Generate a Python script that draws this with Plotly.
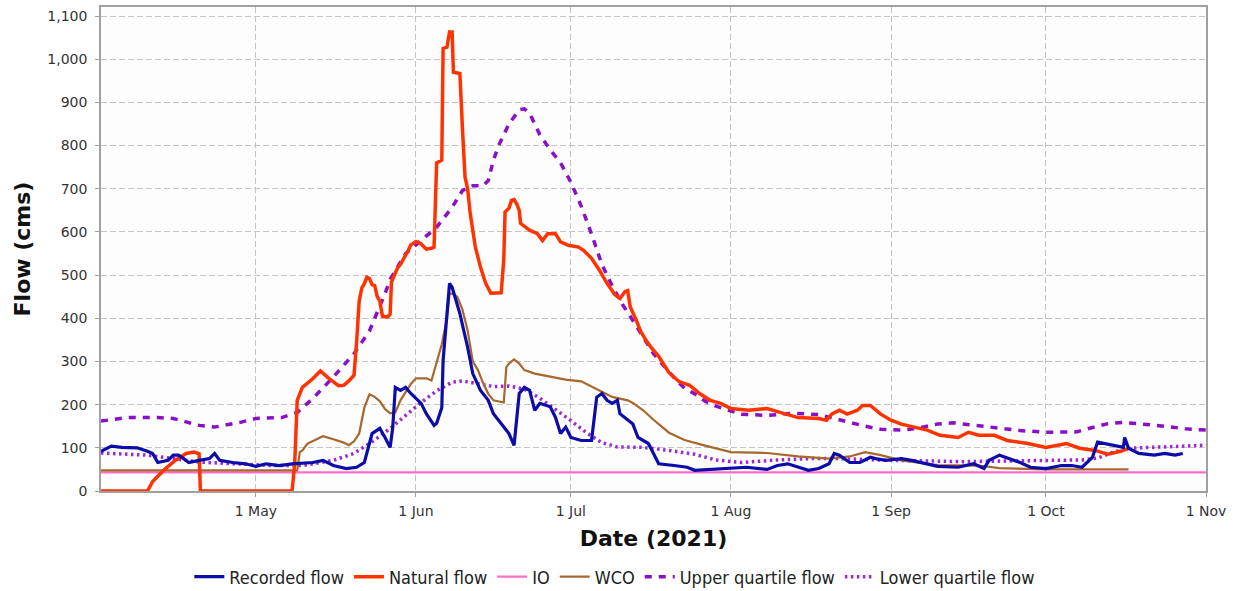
import plotly.graph_objects as go

YEAR = "2021-"

# ---------------- data ----------------
recorded_dates = ["04-01", "04-03", "04-05", "04-08", "04-10", "04-11", "04-12", "04-14", "04-15", "04-16",
                  "04-17", "04-18", "04-20", "04-22", "04-23", "04-24", "04-26 12:00", "04-29", "05-01", "05-03",
                  "05-05 12:00", "05-08", "05-12", "05-14", "05-16", "05-18 12:00", "05-20 12:00", "05-22", "05-23 12:00", "05-25",
                  "05-26", "05-27", "05-27 12:00", "05-28", "05-29", "05-30", "05-31", "06-02", "06-03", "06-04 12:00",
                  "06-05", "06-06", "06-06 06:00", "06-07", "06-07 12:00", "06-08", "06-09 12:00", "06-11", "06-12", "06-13 12:00",
                  "06-15", "06-16", "06-19", "06-20", "06-21", "06-22", "06-23", "06-24", "06-25", "06-27",
                  "06-28", "06-29", "06-30", "07-01", "07-03", "07-05", "07-06", "07-07", "07-08", "07-09",
                  "07-10", "07-10 12:00", "07-12", "07-13", "07-14", "07-16", "07-17", "07-18", "07-21", "07-23 12:00",
                  "07-25", "07-28 12:00", "08-01", "08-04", "08-08", "08-10", "08-12", "08-14", "08-16", "08-18",
                  "08-20", "08-21", "08-22", "08-24", "08-26", "08-28", "08-29", "08-31", "09-03", "09-05",
                  "09-08", "09-10", "09-14", "09-17", "09-19", "09-20", "09-22", "09-24", "09-26", "09-28",
                  "10-01", "10-04", "10-06", "10-08", "10-10", "10-11", "10-14", "10-16", "10-16 06:00", "10-17",
                  "10-19", "10-22", "10-24", "10-26", "10-27 12:00"]
recorded_flow = [92, 104, 101, 100, 92, 87, 66, 71, 83, 83,
                 75, 66, 71, 75, 87, 71, 66, 63, 57, 63,
                 59, 63, 66, 71, 59, 52, 55, 66, 133, 145,
                 124, 101, 147, 240, 233, 240, 226, 203, 179, 152,
                 157, 193, 302, 411, 481, 472, 411, 333, 272, 233,
                 210, 179, 133, 106, 226, 240, 233, 187, 203, 195,
                 171, 133, 148, 124, 117, 117, 217, 226, 210, 203,
                 210, 179, 164, 155, 124, 110, 87, 63, 59, 55,
                 48, 50, 52, 55, 50, 59, 63, 55, 48, 52,
                 63, 87, 83, 66, 66, 78, 75, 71, 75, 71,
                 63, 57, 55, 63, 52, 71, 83, 75, 66, 55,
                 52, 59, 59, 55, 78, 113, 106, 101, 124, 99,
                 87, 83, 87, 83, 87]

natural_dates = ["04-01", "04-10", "04-11", "04-13 12:00", "04-15 12:00", "04-17 12:00", "04-19", "04-20", "04-20 06:00", "05-08",
                 "05-08 12:00", "05-09", "05-10", "05-12", "05-13 12:00", "05-15", "05-17", "05-18", "05-19", "05-20",
                 "05-20 12:00", "05-21", "05-21 12:00", "05-22", "05-22 12:00", "05-23", "05-23 12:00", "05-24", "05-24 12:00", "05-25",
                 "05-25 12:00", "05-26 12:00", "05-27", "05-27 06:00", "05-28", "05-28 12:00", "05-29", "05-30", "05-30 12:00", "05-31",
                 "06-01", "06-02", "06-03", "06-04", "06-04 12:00", "06-05", "06-06", "06-06 06:00", "06-07", "06-07 12:00",
                 "06-08", "06-08 06:00", "06-09 12:00", "06-10", "06-10 12:00", "06-11", "06-11 12:00", "06-12 12:00", "06-13 12:00", "06-14 12:00",
                 "06-15 12:00", "06-17 12:00", "06-18", "06-18 06:00", "06-19", "06-19 12:00", "06-20", "06-20 12:00", "06-21", "06-21 06:00",
                 "06-22", "06-23", "06-24 12:00", "06-25 12:00", "06-26 12:00", "06-28", "06-29", "06-30 12:00", "07-02 12:00", "07-03 12:00",
                 "07-05", "07-06 12:00", "07-08", "07-09 12:00", "07-10 12:00", "07-11 12:00", "07-12", "07-12 12:00", "07-13 12:00", "07-14 12:00",
                 "07-15 12:00", "07-16 12:00", "07-18", "07-20", "07-22", "07-24", "07-26", "07-28", "07-30", "08-01",
                 "08-04 12:00", "08-08", "08-10 12:00", "08-14", "08-18", "08-19 12:00", "08-20 12:00", "08-22", "08-23 12:00", "08-25 12:00",
                 "08-26 12:00", "08-28", "08-30", "09-01", "09-03", "09-05 12:00", "09-08", "09-10 12:00", "09-14", "09-16",
                 "09-18", "09-21", "09-23 12:00", "09-27 12:00", "10-01", "10-05", "10-07 12:00", "10-10 12:00", "10-13", "10-15 12:00",
                 "10-17"]
natural_flow = [0, 0, 22, 52, 72, 87, 90, 86, 0, 0,
                60, 210, 240, 260, 278, 262, 244, 245, 255, 268,
                345, 440, 470, 480, 495, 492, 478, 476, 450, 440,
                405, 403, 410, 484, 505, 518, 525, 545, 557, 570,
                578, 572, 560, 562, 565, 760, 766, 1025, 1028, 1063,
                1063, 970, 967, 840, 727, 700, 643, 565, 518, 481,
                458, 459, 535, 646, 655, 673, 675, 665, 650, 620,
                612, 604, 596, 580, 596, 596, 577, 569, 565, 557,
                539, 512, 481, 455, 446, 462, 464, 426, 400, 370,
                350, 333, 312, 274, 253, 245, 225, 210, 203, 191,
                187, 191, 182, 170, 168, 164, 178, 187, 178, 187,
                198, 198, 178, 164, 155, 148, 141, 129, 124, 136,
                129, 129, 117, 110, 101, 110, 99, 94, 85, 92,
                99]

io_dates = ["04-01", "11-01"]
io_flow = [43, 43]

wco_dates = ["04-01", "05-08", "05-09", "05-09 12:00", "05-10", "05-11", "05-13", "05-14", "05-16", "05-18",
             "05-19", "05-20", "05-21", "05-22", "05-23", "05-24", "05-25", "05-26", "05-27", "05-28",
             "05-29", "05-31", "06-01", "06-03", "06-04", "06-05", "06-06", "06-07", "06-07 12:00", "06-08",
             "06-09", "06-10", "06-11", "06-12", "06-13", "06-14", "06-15", "06-16", "06-18", "06-18 12:00",
             "06-19", "06-20", "06-21", "06-22", "06-24", "06-27", "06-30", "07-03", "07-06", "07-09",
             "07-12", "07-13", "07-15", "07-17", "07-20", "07-23", "07-27", "08-01", "08-08", "08-14",
             "08-20", "08-24", "08-27", "08-30", "09-03", "09-10", "09-18", "09-22", "10-01", "10-17"]
wco_flow = [48, 47, 48, 90, 94, 110, 122, 127, 120, 112,
            106, 115, 133, 193, 224, 218, 208, 190, 180, 182,
            210, 248, 261, 261, 256, 300, 340, 400, 457, 457,
            450, 420, 372, 300, 280, 250, 225, 210, 205, 287,
            295, 305, 295, 280, 272, 265, 258, 254, 236, 218,
            210, 204, 187, 165, 135, 118, 105, 90, 88, 80,
            75, 80, 90, 83, 71, 60, 59, 53, 50, 50]

upper_dates = ["04-01", "04-06", "04-12", "04-15", "04-20", "04-23", "04-28", "05-01", "05-06", "05-09",
               "05-12", "05-16", "05-20", "05-23", "05-26", "05-27", "05-30", "06-02", "06-05", "06-08",
               "06-10", "06-12", "06-14", "06-15", "06-16", "06-17", "06-19", "06-21", "06-22", "06-23",
               "06-25", "06-27", "06-29", "07-01", "07-03", "07-05", "07-07", "07-09", "07-11", "07-13",
               "07-15", "07-17", "07-19", "07-21", "07-23", "07-25", "07-27", "07-29", "07-31", "08-03",
               "08-08", "08-13", "08-18", "08-21", "08-24", "08-27", "08-30", "09-03", "09-06", "09-10",
               "09-13", "09-17", "09-21", "09-26", "10-01", "10-07", "10-10", "10-13", "10-16", "10-20",
               "10-24", "10-28", "11-01"]
upper_quartile = [162, 170, 170, 168, 152, 148, 159, 168, 170, 182,
                  214, 264, 318, 371, 457, 490, 550, 580, 611, 657,
                  696, 707, 707, 719, 766, 800, 850, 883, 885, 875,
                  825, 790, 760, 715, 660, 595, 525, 475, 432, 395,
                  355, 318, 290, 262, 238, 225, 208, 197, 189, 178,
                  175, 180, 177, 168, 157, 150, 143, 141, 145, 155,
                  158, 152, 147, 140, 136, 137, 147, 156, 159, 155,
                  150, 144, 141]

lower_dates = ["04-01", "04-10", "04-20", "04-27", "05-04", "05-10", "05-16", "05-20", "05-24", "05-27",
               "05-30", "06-02", "06-05", "06-08", "06-10", "06-13", "06-16", "06-19", "06-22", "06-25",
               "06-28", "07-01", "07-04", "07-07", "07-10", "07-15", "07-20", "07-25", "07-29", "08-03",
               "08-10", "08-16", "08-22", "09-01", "09-15", "09-25", "10-08", "10-11", "10-14", "10-17",
               "10-22", "10-27", "11-01"]
lower_quartile = [88, 83, 67, 63, 59, 59, 71, 87, 118, 145,
                  175, 205, 232, 252, 255, 248, 242, 243, 236, 215,
                  190, 163, 135, 112, 102, 101, 94, 85, 72, 66,
                  72, 75, 75, 71, 68, 70, 72, 76, 90, 99,
                  101, 104, 106]

tick_dates = ["05-01", "06-01", "07-01", "08-01", "09-01", "10-01", "11-01"]
tick_labels = ["1 May", "1 Jun", "1 Jul", "1 Aug", "1 Sep", "1 Oct", "1 Nov"]


def full(ds):
    return [YEAR + d for d in ds]


fig = go.Figure()

series = [
    ("Upper quartile flow", upper_dates, upper_quartile, "#8A0FC9", 3.5, "7px,7px", 5),
    ("Lower quartile flow", lower_dates, lower_quartile, "#9A2BD0", 3.5, "2.5px,3.5px", 6),
    ("IO", io_dates, io_flow, "#FF6EC7", 2.2, "solid", 3),
    ("WCO", wco_dates, wco_flow, "#A8672C", 2.2, "solid", 4),
    ("Natural flow", natural_dates, natural_flow, "#FF3300", 3.5, "solid", 2),
    ("Recorded flow", recorded_dates, recorded_flow, "#0C0CA8", 3.2, "solid", 1),
]
for name, ds, vals, color, w, dash, rank in series:
    fig.add_trace(go.Scatter(
        x=full(ds), y=vals, name=name, mode="lines",
        line=dict(color=color, width=w, dash=dash),
        legendrank=rank, hoverinfo="skip",
    ))

axis_font = dict(family="DejaVu Sans, Verdana, sans-serif", size=14, color="#333333")
title_font = dict(family="DejaVu Sans, Verdana, sans-serif", size=22, color="#111111")

fig.update_layout(
    width=1236, height=591,
    margin=dict(l=101, r=30, t=7, b=100),
    paper_bgcolor="white",
    plot_bgcolor="#FDFDFD",
    font=dict(family="Liberation Sans, Arial, sans-serif", color="#222222"),
    legend=dict(
        orientation="h", x=0.465, xanchor="center",
        yref="container", y=1 - 577 / 591, yanchor="middle",
        font=dict(family="DejaVu Sans Condensed, Liberation Sans, Arial, sans-serif", size=18, color="#222222"),
        itemwidth=30, tracegroupgap=0, bgcolor="rgba(0,0,0,0)",
    ),
    xaxis=dict(
        range=[YEAR + "04-01", YEAR + "11-01"],
        tickvals=full(tick_dates), ticktext=tick_labels,
        tickfont=axis_font, ticklabelstandoff=2,
        showgrid=True, gridcolor="#C4C4C4", griddash="6px,3px", gridwidth=1,
        showline=True, mirror=True, linecolor="#A0A0A0", linewidth=1.5,
        ticks="outside", ticklen=4, tickcolor="#A0A0A0",
        zeroline=False, automargin=False,
        title=dict(text="<b>Date (2021)</b>", font=title_font, standoff=13),
    ),
    yaxis=dict(
        range=[0, 1121], dtick=100, tickformat=",",
        tickfont=axis_font, ticklabelstandoff=5,
        showgrid=True, gridcolor="#C4C4C4", griddash="6px,3px", gridwidth=1,
        showline=True, mirror=True, linecolor="#A0A0A0", linewidth=1.5,
        ticks="outside", ticklen=4, tickcolor="#A0A0A0",
        zeroline=False, automargin=False,
        title=dict(text="<b>Flow (cms)</b>", font=title_font, standoff=11),
    ),
)

fig.write_html("out.html", config={"displayModeBar": False},
               post_script="document.body.style.margin='0px';")
